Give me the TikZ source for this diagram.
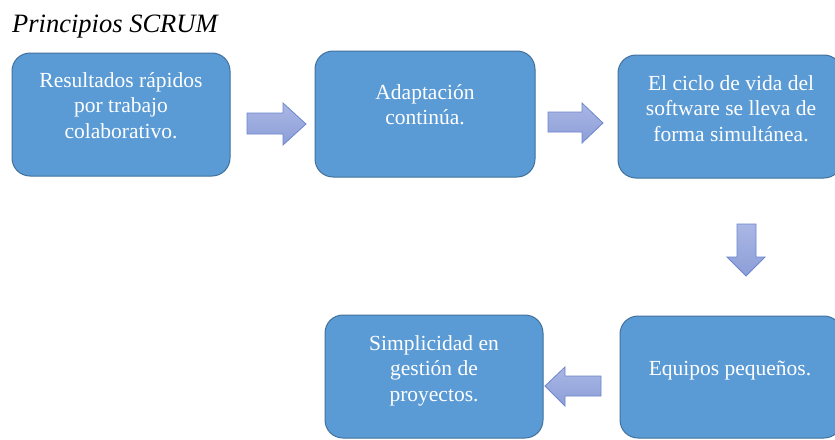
\documentclass[tikz,border=0pt]{standalone}
\usepackage{fontspec}
\setmainfont{Liberation Serif}
\definecolor{boxfill}{HTML}{5B9BD5}
\definecolor{boxline}{HTML}{41719C}
\definecolor{arrtop}{HTML}{AAB7E4}
\definecolor{arrbot}{HTML}{8C9ED8}
\definecolor{arrline}{HTML}{6E86CF}
\begin{document}
\begin{tikzpicture}[x=1pt,y=-1pt,
  scrumbox/.style={draw=boxline,line width=1pt,fill=boxfill,rounded corners=18pt},
  boxtext/.style={text=white,align=center,inner sep=0pt,anchor=base,font=\fontsize{21.5}{25.5}\selectfont},
  blockarrow/.style={draw=arrline,line width=0.8pt,top color=arrtop,bottom color=arrbot,line join=miter}]
\useasboundingbox (0,0) rectangle (835,439);
\fill[white] (0,0) rectangle (835,439);
\node[anchor=base west,inner sep=0pt,font=\fontsize{26.5}{30}\selectfont\itshape] (title) at (12,32) {Principios SCRUM};
% boxes
\draw[scrumbox] (12,53) rectangle (230,176);
\draw[scrumbox] (315,51) rectangle (535,177);
\draw[scrumbox] (618,55) rectangle (842,178);
\draw[scrumbox] (620,316) rectangle (842,438);
\draw[scrumbox] (325,315) rectangle (543,438);
% texts (anchor base = baseline of last line)
\node[boxtext] (t1) at (121,138) {Resultados rápidos\\por trabajo\\colaborativo.};
\node[boxtext] (t2) at (425,124.5) {Adaptación\\continúa.};
\node[boxtext] (t3) at (731,141) {El ciclo de vida del\\software se lleva de\\forma simultánea.};
\node[boxtext] (t4) at (730,375) {Equipos pequeños.};
\node[boxtext] (t5) at (434,401) {Simplicidad en\\gestión de\\proyectos.};
% block arrows
\draw[blockarrow] (247,113) -- (283,113) -- (283,103) -- (306,124) -- (283,145) -- (283,134) -- (247,134) -- cycle;
\draw[blockarrow] (548,112) -- (582,112) -- (582,103) -- (603,123) -- (582,143) -- (582,132) -- (548,132) -- cycle;
\draw[blockarrow] (737,224) -- (756,224) -- (756,257) -- (765,257) -- (746,276) -- (727,257) -- (737,257) -- cycle;
\draw[blockarrow] (601,376) -- (565,376) -- (565,367) -- (545,386) -- (565,406) -- (565,396) -- (601,396) -- cycle;
\end{tikzpicture}
\end{document}
